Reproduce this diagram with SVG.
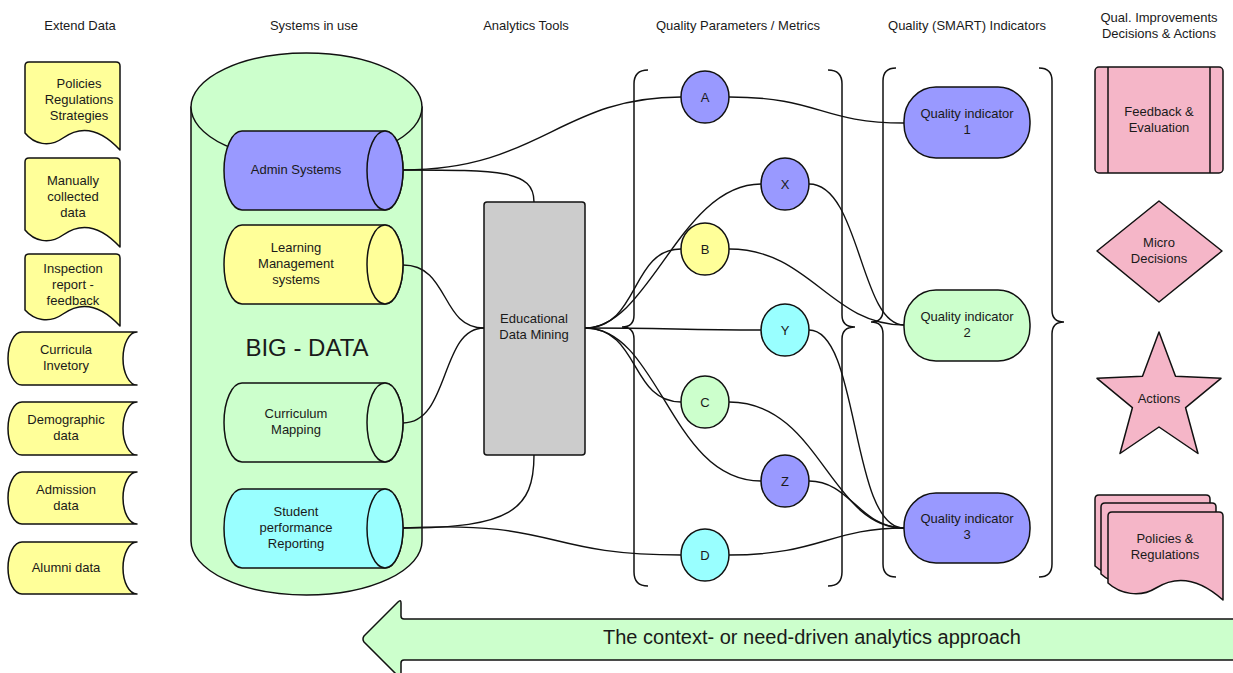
<svg xmlns="http://www.w3.org/2000/svg" xmlns:xlink="http://www.w3.org/1999/xlink" width="1233" height="673" viewBox="0 0 1233 673">
  <defs>
    <style>
      text { font-family: "Liberation Sans", Arial, sans-serif; font-size: 13px; fill: #1a1a1a; text-anchor: middle; }
      .shape { stroke: #111; stroke-width: 1.5; stroke-linejoin: round; }
      .yellow { fill: #ffff99; }
      .green { fill: #ccffcc; }
      .blue { fill: #9999ff; }
      .cyan { fill: #99ffff; }
      .grey { fill: #cccccc; }
      .pink { fill: #f5b6c8; }
      .wire { fill: none; stroke: #111; stroke-width: 1.4; }
      .brace { fill: none; stroke: #111; stroke-width: 1.5; }
    </style>
    <!-- document shape with wavy bottom, 115 x 88 -->
    <path id="pinkDoc" d="M0,4 Q0,0 4,0 L111,0 Q115,0 115,4 L115,88 C86,62 64,66 48,76 S12,82 0,71 Z"/>
  </defs>

  <!-- column headings -->
  <g id="headings">
    <text x="80" y="30">Extend Data</text>
    <text x="314" y="30">Systems in use</text>
    <text x="526" y="30">Analytics Tools</text>
    <text x="738" y="30">Quality Parameters / Metrics</text>
    <text x="967" y="30">Quality (SMART) Indicators</text>
    <text x="1159" y="22">Qual. Improvements</text>
    <text x="1159" y="38">Decisions &amp; Actions</text>
  </g>

  <!-- extend data: documents -->
  <g id="doc-policies">
    <path class="shape yellow" d="M25,66 Q25,62 29,62 L116,62 Q120,62 120,66 L120,150 C96,124 77,128 63,138 S34,144 25,133 Z"/>
    <text x="79" y="88">Policies</text>
    <text x="79" y="104">Regulations</text>
    <text x="79" y="120">Strategies</text>
  </g>
  <g id="doc-manual">
    <path class="shape yellow" d="M25,162 Q25,158 29,158 L116,158 Q120,158 120,162 L120,247 C96,221 77,225 63,235 S34,241 25,230 Z"/>
    <text x="73" y="185">Manually</text>
    <text x="73" y="201">collected</text>
    <text x="73" y="217">data</text>
  </g>
  <g id="doc-inspection">
    <path class="shape yellow" d="M25,258 Q25,254 29,254 L116,254 Q120,254 120,258 L120,326 C96,300 77,304 63,314 S34,320 25,310 Z"/>
    <text x="73" y="273">Inspection</text>
    <text x="73" y="289">report -</text>
    <text x="73" y="305">feedback</text>
  </g>

  <!-- extend data: stored data -->
  <g id="store-curricula">
    <path class="shape yellow" d="M22,332 L137,332 A14,26.5 0 0 0 137,385 L22,385 A14,26.5 0 0 1 22,332 Z"/>
    <text x="66" y="354">Curricula</text>
    <text x="66" y="370">Invetory</text>
  </g>
  <g id="store-demographic">
    <path class="shape yellow" d="M22,402 L137,402 A14,26.5 0 0 0 137,455 L22,455 A14,26.5 0 0 1 22,402 Z"/>
    <text x="66" y="424">Demographic</text>
    <text x="66" y="440">data</text>
  </g>
  <g id="store-admission">
    <path class="shape yellow" d="M22,472 L137,472 A14,26 0 0 0 137,524 L22,524 A14,26 0 0 1 22,472 Z"/>
    <text x="66" y="494">Admission</text>
    <text x="66" y="510">data</text>
  </g>
  <g id="store-alumni">
    <path class="shape yellow" d="M22,542 L137,542 A14,26 0 0 0 137,594 L22,594 A14,26 0 0 1 22,542 Z"/>
    <text x="66" y="572">Alumni data</text>
  </g>

  <!-- big data store -->
  <g id="big-data">
    <path class="shape green" d="M191,107 L191,541 A115.5,54 0 0 0 422,541 L422,107 Z"/>
    <ellipse class="shape green" cx="306.5" cy="107" rx="115.5" ry="54"/>
    <text x="307" y="356" style="font-size:24px">BIG - DATA</text>
  </g>

  <g id="sys-admin">
    <path class="shape blue" d="M242,131 L385,131 A18,39.5 0 0 1 385,210 L242,210 A18,39.5 0 0 1 242,131 Z"/>
    <ellipse class="shape blue" cx="385" cy="170.5" rx="18" ry="39.5"/>
    <text x="296" y="174">Admin Systems</text>
  </g>
  <g id="sys-lms">
    <path class="shape yellow" d="M242,225 L385,225 A18,39.5 0 0 1 385,304 L242,304 A18,39.5 0 0 1 242,225 Z"/>
    <ellipse class="shape yellow" cx="385" cy="264.5" rx="18" ry="39.5"/>
    <text x="296" y="252">Learning</text>
    <text x="296" y="268">Management</text>
    <text x="296" y="284">systems</text>
  </g>
  <g id="sys-curriculum">
    <path class="shape green" d="M242,383 L385,383 A18,39.5 0 0 1 385,462 L242,462 A18,39.5 0 0 1 242,383 Z"/>
    <ellipse class="shape green" cx="385" cy="422.5" rx="18" ry="39.5"/>
    <text x="296" y="418">Curriculum</text>
    <text x="296" y="434">Mapping</text>
  </g>
  <g id="sys-student">
    <path class="shape cyan" d="M242,489 L385,489 A18,39.5 0 0 1 385,568 L242,568 A18,39.5 0 0 1 242,489 Z"/>
    <ellipse class="shape cyan" cx="385" cy="528.5" rx="18" ry="39.5"/>
    <text x="296" y="516">Student</text>
    <text x="296" y="532">performance</text>
    <text x="296" y="548">Reporting</text>
  </g>

  <!-- group braces -->
  <g id="braces">
    <path class="brace" d="M648,70 Q634,70 634,84 L634,315 Q634,327 622,327 Q634,327 634,339 L634,572 Q634,586 648,586"/>
    <path class="brace" d="M828,70 Q842,70 842,84 L842,315 Q842,327 855,327 Q842,327 842,339 L842,572 Q842,586 828,586"/>
    <path class="brace" d="M896,68 Q883,68 883,81 L883,310 Q883,322 871,322 Q883,322 883,334 L883,564 Q883,577 896,577"/>
    <path class="brace" d="M1039,68 Q1052,68 1052,81 L1052,310 Q1052,322 1064,322 Q1052,322 1052,334 L1052,564 Q1052,577 1039,577"/>
  </g>

  <!-- connectors -->
  <g id="connectors">
    <path class="wire" d="M403,170 C540,170 560,97 681,97"/>
    <path class="wire" d="M403,170 C500,170 534,170 534,202"/>
    <path class="wire" d="M403,265 C450,265 440,328 484,328"/>
    <path class="wire" d="M403,423 C450,423 440,328 484,328"/>
    <path class="wire" d="M403,528 C510,528 534,510 534,455"/>
    <path class="wire" d="M403,528 C560,520 540,555 681,555"/>
    <path class="wire" d="M585,328 C650,328 680,184 761,184"/>
    <path class="wire" d="M585,328 C640,328 630,249 681,249"/>
    <path class="wire" d="M585,328 C670,328 680,330 761,330"/>
    <path class="wire" d="M585,328 C640,328 630,402 681,402"/>
    <path class="wire" d="M585,328 C660,328 670,481 761,481"/>
    <path class="wire" d="M729,97 C820,97 820,123 904,123"/>
    <path class="wire" d="M809,184 C860,184 860,325 904,325"/>
    <path class="wire" d="M729,249 C810,249 830,325 904,325"/>
    <path class="wire" d="M809,330 C860,330 850,528 904,528"/>
    <path class="wire" d="M729,402 C820,402 830,528 904,528"/>
    <path class="wire" d="M809,481 C850,481 860,528 904,528"/>
    <path class="wire" d="M729,555 C820,555 830,528 904,528"/>
  </g>

  <!-- analytics tool -->
  <g id="edm">
    <rect class="shape grey" x="484" y="202" width="101" height="253" rx="3"/>
    <text x="534" y="323">Educational</text>
    <text x="534" y="339">Data Mining</text>
  </g>

  <!-- quality parameters -->
  <g id="param-a"><ellipse class="shape blue" cx="705" cy="97" rx="24" ry="26"/><text x="705" y="102">A</text></g>
  <g id="param-x"><ellipse class="shape blue" cx="785" cy="184" rx="24" ry="26"/><text x="785" y="189">X</text></g>
  <g id="param-b"><ellipse class="shape yellow" cx="705" cy="249" rx="24" ry="26"/><text x="705" y="254">B</text></g>
  <g id="param-y"><ellipse class="shape cyan" cx="785" cy="330" rx="24" ry="26"/><text x="785" y="335">Y</text></g>
  <g id="param-c"><ellipse class="shape green" cx="705" cy="402" rx="24" ry="26"/><text x="705" y="407">C</text></g>
  <g id="param-z"><ellipse class="shape blue" cx="785" cy="481" rx="24" ry="26"/><text x="785" y="486">Z</text></g>
  <g id="param-d"><ellipse class="shape cyan" cx="705" cy="555" rx="24" ry="26"/><text x="705" y="560">D</text></g>

  <!-- quality indicators -->
  <g id="qi-1">
    <rect class="shape blue" x="904" y="87" width="126" height="71" rx="32" ry="34"/>
    <text x="967" y="118">Quality indicator</text>
    <text x="967" y="134">1</text>
  </g>
  <g id="qi-2">
    <rect class="shape green" x="904" y="290" width="126" height="71" rx="32" ry="34"/>
    <text x="967" y="321">Quality indicator</text>
    <text x="967" y="337">2</text>
  </g>
  <g id="qi-3">
    <rect class="shape blue" x="904" y="493" width="126" height="70" rx="32" ry="34"/>
    <text x="967" y="523">Quality indicator</text>
    <text x="967" y="539">3</text>
  </g>

  <!-- improvements, decisions and actions -->
  <g id="feedback">
    <rect class="shape pink" x="1095" y="67" width="128" height="106" rx="4"/>
    <line class="shape" x1="1108" y1="67" x2="1108" y2="173"/>
    <line class="shape" x1="1210" y1="67" x2="1210" y2="173"/>
    <text x="1159" y="116">Feedback &amp;</text>
    <text x="1159" y="132">Evaluation</text>
  </g>
  <g id="micro-decisions">
    <path class="shape pink" d="M1159,201 L1222,251 L1159,302 L1097,251 Z"/>
    <text x="1159" y="247">Micro</text>
    <text x="1159" y="263">Decisions</text>
  </g>
  <g id="actions">
    <path class="shape pink" d="M1159,332 L1175.5,376.3 L1221,378.3 L1185.6,407.7 L1198,453.5 L1159,427 L1120,453.5 L1132.4,407.7 L1097,378.3 L1142.5,376.3 Z"/>
    <text x="1159" y="403">Actions</text>
  </g>
  <g id="policies-regulations">
    <use xlink:href="#pinkDoc" class="shape pink" x="1095" y="495"/>
    <use xlink:href="#pinkDoc" class="shape pink" x="1101" y="503"/>
    <use xlink:href="#pinkDoc" class="shape pink" x="1108" y="512"/>
    <text x="1165" y="543">Policies &amp;</text>
    <text x="1165" y="559">Regulations</text>
  </g>

  <!-- approach arrow -->
  <g id="approach-arrow">
    <path class="shape green" d="M1240,619 L404,619 Q401,619 401,616 L401,603 Q401,599 398,602 L364,636 Q362,639 364,642 L398,676 Q401,679 401,675 L401,663 Q401,660 404,660 L1240,660 Z"/>
    <text x="812" y="644" style="font-size:20px">The context- or need-driven analytics approach</text>
  </g>
</svg>
